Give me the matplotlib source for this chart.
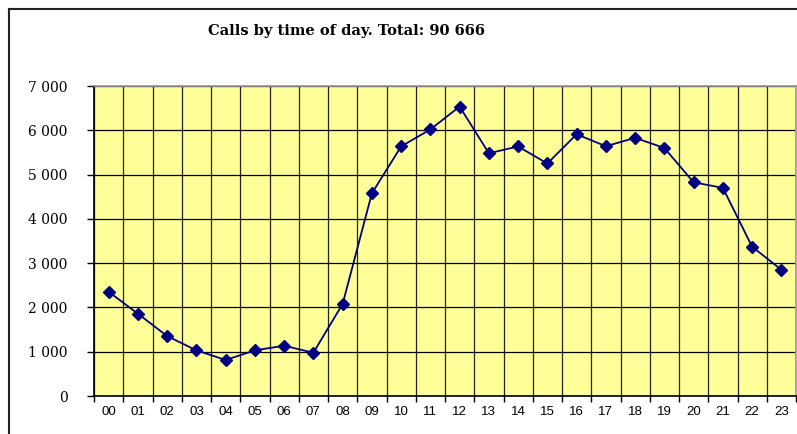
import matplotlib
matplotlib.use('Agg')
import matplotlib.pyplot as plt
import matplotlib.ticker as mticker
from matplotlib.lines import Line2D

# calls per hour
hours = ['00', '01', '02', '03', '04', '05', '06', '07', '08', '09', '10', '11',
         '12', '13', '14', '15', '16', '17', '18', '19', '20', '21', '22', '23']
calls = [2355, 1858, 1354, 1031, 813, 1031, 1135, 978, 2077, 4576, 5635, 6020,
         6535, 5481, 5635, 5250, 5910, 5640, 5830, 5600, 4825, 4700, 3370, 2850]
title = 'Calls by time of day. Total: 90 666'

W, H = 797, 434
fig = plt.figure(figsize=(W / 100, H / 100), dpi=100)
fig.patch.set_facecolor('white')

# outer chart border (cut off at right and bottom)
fig.add_artist(Line2D([9 / W, 9 / W], [1 - 9 / H, 0], transform=fig.transFigure,
                      color='#222222', lw=1.5))
fig.add_artist(Line2D([9 / W, 1], [1 - 9 / H, 1 - 9 / H], transform=fig.transFigure,
                      color='#222222', lw=1.5))

ax = fig.add_axes([94 / W, 1 - 396 / H, (796 - 94) / W, (396 - 86) / H])
ax.set_facecolor('#FFFF99')

x = list(range(len(hours)))
ax.plot(x, calls, color='#000080', lw=1.3, marker='D', markersize=6.5,
        markerfacecolor='#000080', markeredgecolor='#000080', zorder=3)

ax.set_xlim(-0.5, len(hours) - 0.5)
ax.set_ylim(0, 7000)

# horizontal gridlines
ax.yaxis.set_major_locator(mticker.MultipleLocator(1000))
ax.yaxis.set_major_formatter(mticker.FuncFormatter(lambda v, p: '{:,}'.format(int(v)).replace(',', ' ')))
ax.grid(axis='y', which='major', color='black', lw=0.9)

# vertical gridlines on category boundaries
ax.set_xticks(x)
ax.set_xticklabels(hours)
ax.set_xticks([i - 0.5 for i in range(len(hours) + 1)], minor=True)
ax.grid(axis='x', which='minor', color='#222222', lw=0.9)
ax.tick_params(axis='x', which='major', length=0, pad=7)
ax.tick_params(axis='x', which='minor', length=4, width=1, direction='out', color='black')
ax.tick_params(axis='y', length=5, width=1, direction='out', pad=14)

for lab in ax.get_xticklabels():
    lab.set_fontfamily('Liberation Sans')
    lab.set_fontsize(9.5)
for lab in ax.get_yticklabels():
    lab.set_fontfamily('DejaVu Serif')
    lab.set_fontsize(10)

ax.spines['left'].set_color('black')
ax.spines['bottom'].set_color('black')
ax.spines['top'].set_color('#999999')
ax.spines['right'].set_color('#999999')
for s in ax.spines.values():
    s.set_linewidth(1.2)

fig.text(346 / W, 1 - 31 / H, title, ha='center', va='center',
         fontfamily='DejaVu Serif', fontweight='bold', fontsize=10.5)

fig.savefig('out.png', dpi=100)
